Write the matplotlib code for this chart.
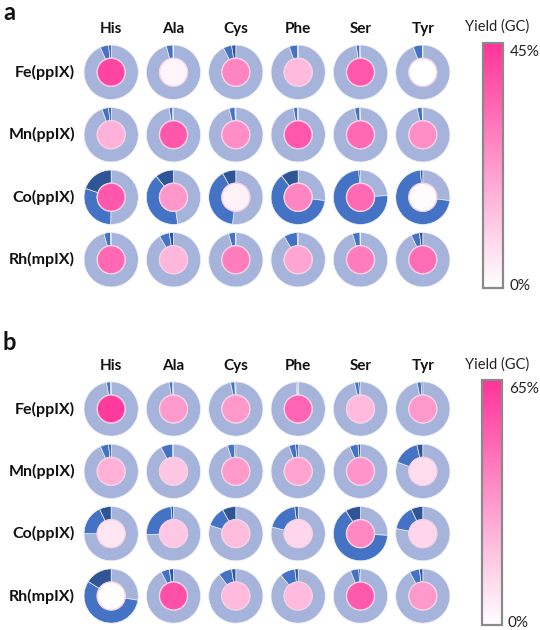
import matplotlib
matplotlib.use('Agg')
import matplotlib.pyplot as plt
from matplotlib.colors import LinearSegmentedColormap, Normalize
from matplotlib.patches import Circle
import matplotlib.colorbar as mcb

plt.rcParams['font.family'] = ['Lato', 'DejaVu Sans']

amino_acids = ['His', 'Ala', 'Cys', 'Phe', 'Ser', 'Tyr']
cofactors = ['Fe(ppIX)', 'Mn(ppIX)', 'Co(ppIX)', 'Rh(mpIX)']

# Panel a: yield (%) shown by inner circle, ring = product distribution (%)
yield_a = [[41, 2, 27, 15, 37, 0],
           [17, 37, 25, 37, 33, 25],
           [37, 23, 3, 27, 33, 1],
           [33, 16, 29, 20, 29, 32]]
light_a = [[93.5, 95.7, 92.5, 94.7, 97.4, 94.2],
           [94.5, 97.4, 96.0, 97.2, 96.5, 96.6],
           [50.3, 47.5, 52.0, 27.0, 24.0, 27.0],
           [95.7, 91.5, 95.7, 91.4, 95.2, 93.0]]
medium_a = [[5.0, 4.0, 5.0, 5.0, 2.0, 5.5],
            [4.0, 2.0, 3.5, 2.5, 3.0, 3.0],
            [30.0, 41.5, 40.0, 62.5, 75.0, 71.5],
            [4.0, 6.0, 4.0, 8.0, 4.5, 5.0]]
dark_a = [[1.5, 0.3, 2.5, 0.3, 0.6, 0.3],
          [1.5, 0.6, 0.5, 0.3, 0.5, 0.4],
          [19.7, 11.0, 8.0, 10.5, 1.0, 1.5],
          [0.3, 2.5, 0.3, 0.6, 0.3, 2.0]]

# Panel b
yield_b = [[62, 32, 33, 49, 22, 33],
           [25, 18, 32, 29, 34, 11],
           [8, 18, 21, 13, 38, 13],
           [1, 56, 22, 22, 53, 33]]
light_b = [[97.2, 97.4, 96.9, 98.8, 96.5, 96.5],
           [93.5, 92.4, 95.0, 94.5, 93.5, 80.5],
           [75.0, 74.5, 80.0, 79.0, 26.0, 78.0],
           [27.5, 92.5, 89.5, 89.0, 94.0, 92.0]]
medium_b = [[2.5, 2.0, 2.5, 1.0, 2.5, 2.5],
            [5.0, 7.0, 4.0, 4.0, 5.0, 16.0],
            [18.0, 24.0, 12.0, 19.0, 65.0, 15.0],
            [56.5, 5.0, 8.0, 9.0, 5.0, 6.0]]
dark_b = [[0.3, 0.6, 0.6, 0.2, 1.0, 1.0],
          [1.5, 0.6, 1.0, 1.5, 1.5, 3.5],
          [7.0, 1.5, 8.0, 2.0, 9.0, 7.0],
          [16.0, 2.5, 2.5, 2.0, 1.0, 2.0]]

vmax_a = 45
vmax_b = 65

seg_colors = ['#A6B3DA', '#4472C4', '#2F5597']
cmap = LinearSegmentedColormap.from_list('yield', ['#FFFFFF', '#FF3399'])

W, H = 540, 630
fig = plt.figure(figsize=(W / 100, H / 100), dpi=100)

R = 0.435
RW = 0.21


def px_rect(x0, y0, x1, y1):
    return [x0 / W, 1 - y1 / H, (x1 - x0) / W, (y1 - y0) / H]


def draw_panel(rect, yields, light, medium, dark, vmax, cbar_rect,
               letter, letter_y, ylabel_y):
    ax = fig.add_axes(rect)
    norm = Normalize(0, vmax)
    for r in range(len(cofactors)):
        for c in range(len(amino_acids)):
            ax.pie([light[r][c], medium[r][c], dark[r][c]], colors=seg_colors,
                   startangle=90, counterclock=False, radius=R,
                   center=(c, -r),
                   wedgeprops=dict(width=RW, edgecolor='#EEF0F8', linewidth=0.5))
            ax.add_patch(Circle((c, -r), R - RW, facecolor=cmap(norm(yields[r][c])),
                                edgecolor='#F4D2E6', linewidth=1.0, zorder=5))
    ax.set_xlim(-0.5, len(amino_acids) - 0.5)
    ax.set_ylim(-len(cofactors) + 0.5, 0.5)
    ax.set_aspect('equal', adjustable='datalim')
    ax.set_axis_off()
    for c, name in enumerate(amino_acids):
        ax.text(c, 0.69, name, ha='center', va='center', fontsize=11,
                fontweight='bold', color='#111111')
    for r, name in enumerate(cofactors):
        ax.text(-0.58, -r, name, ha='right', va='center', fontsize=11.5,
                fontweight='bold', color='#111111')

    cax = fig.add_axes(cbar_rect)
    cb = mcb.ColorbarBase(cax, cmap=cmap, norm=Normalize(0, vmax),
                          orientation='vertical')
    cb.set_ticks([])
    cb.outline.set_edgecolor('#8A8A8A')
    cb.outline.set_linewidth(1.6)
    cax.text(1.35, 0.965, f'{vmax}%', transform=cax.transAxes, ha='left',
             va='center', fontsize=11, color='#222222')
    cax.text(1.3, 0.01, '0%', transform=cax.transAxes, ha='left',
             va='center', fontsize=11, color='#222222')
    fig.text(497 / W, 1 - ylabel_y / H, 'Yield (GC)', ha='center', va='center',
             fontsize=10.5, color='#222222')
    fig.text(3 / W, 1 - letter_y / H, letter, ha='left', va='center',
             fontsize=17, fontweight='bold', color='#111111')


draw_panel(px_rect(80, 41, 454, 291), yield_a, light_a, medium_a, dark_a, vmax_a,
           px_rect(483, 43, 503, 288), 'a', 13, 27)
draw_panel(px_rect(80, 377, 454, 628), yield_b, light_b, medium_b, dark_b, vmax_b,
           px_rect(482, 380, 502, 625), 'b', 342, 365)

fig.savefig('out.png', dpi=100)
